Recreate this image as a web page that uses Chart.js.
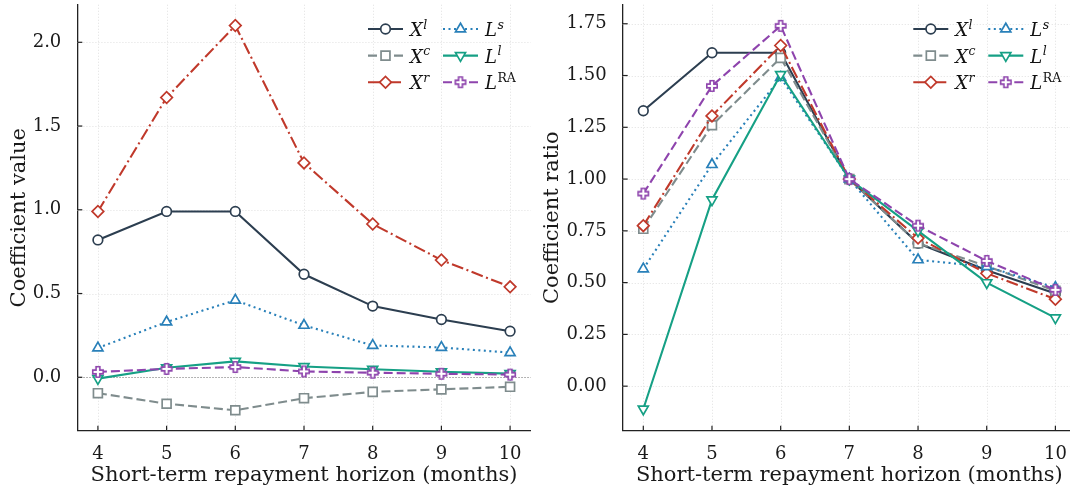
<!DOCTYPE html>
<html>
<head>
<meta charset="utf-8">
<script src="https://cdn.jsdelivr.net/npm/chart.js@4.4.0/dist/chart.umd.min.js"></script>
<style>
    html, body { margin: 0; padding: 0; background: #fff; overflow: hidden; }
    #wrap { position: relative; width: 1070px; height: 492px; overflow: hidden; }
    .panel { position: absolute; top: 0; width: 540px; height: 492px; }
    #left { left: 0; }
    #right { left: 540px; }
</style>
</head>
<body>
<div id="wrap">
    <div class="panel" id="left"><canvas id="coefChart"></canvas></div>
    <div class="panel" id="right"><canvas id="ratioChart"></canvas></div>
</div>
<script>
/* data */
var horizons = [4, 5, 6, 7, 8, 9, 10];
var seriesNames = ["X^l", "X^c", "X^r", "L^s", "L^l", "L^RA"];

var coefXl = [0.82, 0.99, 0.99, 0.615, 0.425, 0.345, 0.275];
var coefXc = [-0.095, -0.158, -0.197, -0.125, -0.087, -0.072, -0.057];
var coefXr = [0.99, 1.67, 2.10, 1.28, 0.915, 0.70, 0.54];
var coefLs = [0.175, 0.33, 0.46, 0.31, 0.19, 0.178, 0.147];
var coefLl = [-0.008, 0.057, 0.095, 0.064, 0.048, 0.033, 0.022];
var coefLra = [0.032, 0.05, 0.061, 0.035, 0.027, 0.021, 0.016];

var ratioXl = [1.33, 1.61, 1.61, 1.00, 0.69, 0.56, 0.447];
var ratioXc = [0.76, 1.26, 1.585, 1.00, 0.69, 0.58, 0.46];
var ratioXr = [0.775, 1.305, 1.645, 1.00, 0.715, 0.545, 0.42];
var ratioLs = [0.566, 1.07, 1.49, 1.00, 0.61, 0.577, 0.476];
var ratioLl = [-0.11, 0.90, 1.505, 1.00, 0.75, 0.50, 0.33];
var ratioLra = [0.93, 1.45, 1.74, 1.00, 0.775, 0.605, 0.465];

var coefTicks = [0, 0.5, 1.0, 1.5, 2.0];
var ratioTicks = [0, 0.25, 0.5, 0.75, 1.0, 1.25, 1.5, 1.75];

/* styles */
var FONT = '"DejaVu Serif"';
var colors = ["#2c3e50", "#7f8c8d", "#c0392b", "#2980b9", "#16a085", "#8e44ad"];
var dashes = [[], [9, 4], [12, 3.5, 2, 3.5], [2, 3.5], [], [9, 4]];

function plusMarker(color) {
    var c = document.createElement("canvas");
    c.width = 16;
    c.height = 16;
    var g = c.getContext("2d");
    var s = 5.2, w = 1.9, cx = 8, cy = 8;
    g.beginPath();
    g.moveTo(cx - w, cy - s); g.lineTo(cx + w, cy - s); g.lineTo(cx + w, cy - w);
    g.lineTo(cx + s, cy - w); g.lineTo(cx + s, cy + w); g.lineTo(cx + w, cy + w);
    g.lineTo(cx + w, cy + s); g.lineTo(cx - w, cy + s); g.lineTo(cx - w, cy + w);
    g.lineTo(cx - s, cy + w); g.lineTo(cx - s, cy - w); g.lineTo(cx - w, cy - w);
    g.closePath();
    g.fillStyle = "#fff";
    g.fill();
    g.lineWidth = 1.6;
    g.strokeStyle = color;
    g.stroke();
    return c;
}

var markers = [
    { style: "circle", radius: 4.8, rotation: 0 },
    { style: "rect", radius: 6.3, rotation: 0 },
    { style: "rectRot", radius: 5.8, rotation: 0 },
    { style: "triangle", radius: 5.8, rotation: 0 },
    { style: "triangle", radius: 5.8, rotation: 180 },
    { style: plusMarker(colors[5]), radius: 5, rotation: 0 }
];

function buildDatasets(seriesList) {
    return seriesList.map(function (values, i) {
        return {
            label: seriesNames[i],
            data: values.map(function (v, k) { return { x: horizons[k], y: v }; }),
            borderColor: colors[i],
            backgroundColor: colors[i],
            borderWidth: 2.1,
            borderDash: dashes[i],
            tension: 0,
            pointStyle: markers[i].style,
            pointRadius: markers[i].radius,
            pointRotation: markers[i].rotation,
            pointBorderWidth: 1.7,
            pointBackgroundColor: "#fff",
            pointBorderColor: colors[i],
            order: seriesList.length - 1 - i
        };
    });
}

/* grid, inward ticks, zero line and the two-column legend */
var mplStyle = {
    id: "mplStyle",
    beforeDatasetsDraw: function (chart, args, opts) {
        var ctx = chart.ctx, a = chart.chartArea;
        var xs = chart.scales.x, ys = chart.scales.y;
        ctx.save();
        ctx.strokeStyle = "#dedede";
        ctx.lineWidth = 0.8;
        ctx.setLineDash([1.2, 1.8]);
        xs.ticks.forEach(function (t) {
            var px = Math.round(xs.getPixelForValue(t.value)) + 0.5;
            ctx.beginPath(); ctx.moveTo(px, a.top); ctx.lineTo(px, a.bottom); ctx.stroke();
        });
        ys.ticks.forEach(function (t) {
            var py = Math.round(ys.getPixelForValue(t.value)) + 0.5;
            ctx.beginPath(); ctx.moveTo(a.left, py); ctx.lineTo(a.right, py); ctx.stroke();
        });
        if (opts.zeroLine) {
            var zy = Math.round(ys.getPixelForValue(0)) + 0.5;
            ctx.strokeStyle = "#a0a0a0";
            ctx.lineWidth = 1;
            ctx.setLineDash([1.5, 1.5]);
            ctx.beginPath(); ctx.moveTo(a.left, zy); ctx.lineTo(a.right, zy); ctx.stroke();
        }
        ctx.restore();
    },
    afterDraw: function (chart) {
        var ctx = chart.ctx, a = chart.chartArea;
        var xs = chart.scales.x, ys = chart.scales.y;
        ctx.save();
        ctx.strokeStyle = "#222";
        ctx.lineWidth = 1.2;
        xs.ticks.forEach(function (t) {
            var px = xs.getPixelForValue(t.value);
            ctx.beginPath(); ctx.moveTo(px, a.bottom); ctx.lineTo(px, a.bottom - 5); ctx.stroke();
        });
        ys.ticks.forEach(function (t) {
            var py = ys.getPixelForValue(t.value);
            ctx.beginPath(); ctx.moveTo(a.left, py); ctx.lineTo(a.left + 5, py); ctx.stroke();
        });
        ctx.restore();

        chart.data.datasets.forEach(function (ds, i) {
            var col = Math.floor(i / 3), row = i % 3;
            var x0 = a.right - 162.7 + col * 75;
            var y = a.top + 24.3 + row * 26.6;

            ctx.save();
            ctx.strokeStyle = ds.borderColor;
            ctx.lineWidth = ds.borderWidth;
            ctx.setLineDash(ds.borderDash || []);
            ctx.beginPath(); ctx.moveTo(x0, y); ctx.lineTo(x0 + 35, y); ctx.stroke();
            ctx.restore();

            ctx.save();
            ctx.fillStyle = "#fff";
            ctx.strokeStyle = ds.borderColor;
            ctx.lineWidth = ds.pointBorderWidth;
            Chart.helpers.drawPoint(ctx, {
                pointStyle: ds.pointStyle,
                rotation: ds.pointRotation,
                radius: ds.pointRadius,
                borderWidth: ds.pointBorderWidth
            }, x0 + 17.5, y);
            ctx.restore();

            var parts = ds.label.split("^");
            ctx.save();
            ctx.fillStyle = "#111";
            ctx.textBaseline = "alphabetic";
            ctx.textAlign = "left";
            ctx.font = "italic 18px " + FONT;
            ctx.fillText(parts[0], x0 + 42, y + 7);
            var bw = ctx.measureText(parts[0]).width;
            ctx.font = (parts[1].length === 1 ? "italic " : "") + "12.5px " + FONT;
            ctx.fillText(parts[1], x0 + 42 + bw + 0.5, y - 0.5);
            ctx.restore();
        });
    }
};

function makeOptions(yMin, yMax, yTicks, digits, yTitle, yWidth, titlePad, rightPad, zeroLine) {
    return {
        responsive: true,
        maintainAspectRatio: false,
        animation: false,
        layout: {
            autoPadding: false,
            padding: { top: 4.7, right: rightPad, left: 0, bottom: 0 }
        },
        plugins: {
            legend: { display: false },
            tooltip: { enabled: false },
            mplStyle: { zeroLine: zeroLine }
        },
        scales: {
            x: {
                type: "linear",
                min: 3.7,
                max: 10.3,
                grid: { display: false },
                border: { color: "#222", width: 1.3 },
                afterBuildTicks: function (s) {
                    s.ticks = horizons.map(function (v) { return { value: v }; });
                },
                ticks: {
                    color: "#1a1a1a",
                    font: { family: FONT, size: 18 },
                    padding: 5,
                    maxRotation: 0,
                    autoSkip: false,
                    callback: function (v) { return String(v); }
                },
                title: {
                    display: true,
                    text: "Short-term repayment horizon (months)",
                    color: "#1a1a1a",
                    font: { family: FONT, size: 21 },
                    padding: { top: 0, bottom: 4 }
                },
                afterFit: function (s) {
                    s.height = 61.3;
                    s.paddingLeft = 0;
                    s.paddingRight = 0;
                }
            },
            y: {
                type: "linear",
                min: yMin,
                max: yMax,
                grid: { display: false },
                border: { color: "#222", width: 1.3 },
                afterBuildTicks: function (s) {
                    s.ticks = yTicks.map(function (v) { return { value: v }; });
                },
                ticks: {
                    color: "#1a1a1a",
                    font: { family: FONT, size: 18 },
                    padding: 8,
                    callback: function (v) { return Number(v).toFixed(digits); }
                },
                title: {
                    display: true,
                    text: yTitle,
                    color: "#1a1a1a",
                    font: { family: FONT, size: 21 },
                    padding: { top: titlePad, bottom: 0 }
                },
                afterFit: function (s) {
                    s.width = yWidth;
                    s.paddingTop = 0;
                    s.paddingBottom = 0;
                }
            }
        }
    };
}

window.onload = function () {
    new Chart(document.getElementById("coefChart").getContext("2d"), {
        type: "line",
        data: { datasets: buildDatasets([coefXl, coefXc, coefXr, coefLs, coefLl, coefLra]) },
        options: makeOptions(-0.319, 2.2245, coefTicks, 1, "Coefficient value", 77.3, 6.5, 9.3, true),
        plugins: [mplStyle]
    });

    new Chart(document.getElementById("ratioChart").getContext("2d"), {
        type: "line",
        data: { datasets: buildDatasets([ratioXl, ratioXc, ratioXr, ratioLs, ratioLl, ratioLra]) },
        options: makeOptions(-0.215, 1.842, ratioTicks, 2, "Coefficient ratio", 82.7, 0, 4, false),
        plugins: [mplStyle]
    });
};
</script>
</body>
</html>
